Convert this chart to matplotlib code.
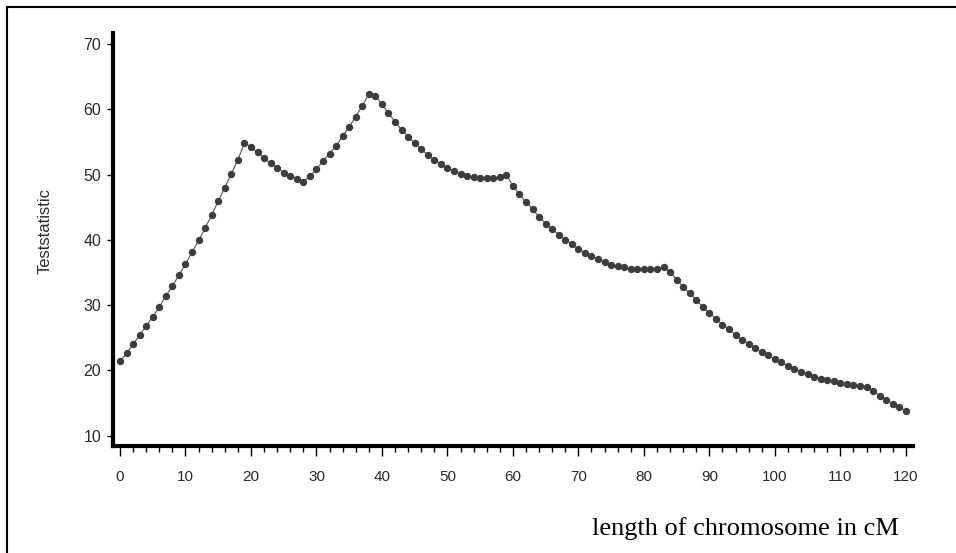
import numpy as np
import matplotlib
matplotlib.use('Agg')
import matplotlib.pyplot as plt
from matplotlib.lines import Line2D

# position along the chromosome (cM), one test every 1 cM
posicao = np.arange(0, 121)

# test statistic
estatistica = [
    21.4, 22.6, 24.0, 25.4, 26.8, 28.2, 29.7, 31.4, 32.9, 34.6,
    36.3, 38.1, 39.9, 41.8, 43.8, 45.9, 48.0, 50.1, 52.3, 54.8,
    54.3, 53.4, 52.5, 51.7, 51.0, 50.3, 49.8, 49.3, 48.9, 49.8,
    50.8, 52.1, 53.2, 54.4, 55.9, 57.3, 58.9, 60.5, 62.4, 62.1,
    60.8, 59.4, 58.1, 56.9, 55.8, 54.8, 53.9, 53.0, 52.2, 51.6,
    51.0, 50.5, 50.1, 49.8, 49.6, 49.5, 49.4, 49.5, 49.6, 49.9,
    48.3, 47.0, 45.8, 44.7, 43.5, 42.5, 41.6, 40.8, 40.0, 39.3,
    38.6, 38.0, 37.5, 37.0, 36.6, 36.2, 36.0, 35.8, 35.6, 35.5,
    35.5, 35.5, 35.6, 35.8, 35.1, 33.9, 32.8, 31.8, 30.8, 29.7,
    28.8, 27.9, 27.0, 26.3, 25.4, 24.7, 24.1, 23.4, 22.8, 22.3,
    21.7, 21.2, 20.7, 20.2, 19.8, 19.4, 19.0, 18.7, 18.5, 18.3,
    18.1, 17.9, 17.8, 17.6, 17.5, 16.9, 16.1, 15.5, 14.9, 14.4,
    13.8,
]

xticks = list(range(0, 121, 10))
yticks = list(range(10, 71, 10))

fig = plt.figure(figsize=(9.56, 5.53), dpi=100)
ax = fig.add_axes([113 / 956, 1 - 446 / 553, 800 / 956, 413 / 553])

ax.plot(posicao, estatistica, '-', color='#555555', lw=0.8,
        marker='o', ms=4.3, mfc='#3d3d3d', mec='#3d3d3d')

ax.set_xlim(-1.07, 121.1)
ax.set_ylim(8.4, 71.7)

for lado in ['top', 'right']:
    ax.spines[lado].set_visible(False)
for lado in ['left', 'bottom']:
    ax.spines[lado].set_linewidth(3)
    ax.spines[lado].set_color('black')

ax.set_xticks(xticks)
ax.set_xticks(range(0, 121, 2), minor=True)
ax.set_yticks(yticks)
ax.tick_params(axis='x', which='major', length=7.5, width=1, pad=10,
               labelsize=11, labelcolor='#2a2a2a')
ax.tick_params(axis='x', which='minor', length=4.5, width=1)
ax.tick_params(axis='y', which='major', length=4.5, width=1, pad=4,
               labelsize=11.5, labelcolor='#2a2a2a')
for lbl in ax.get_xticklabels() + ax.get_yticklabels():
    lbl.set_family('Liberation Sans')

ax.set_ylabel('Teststatistic', family='Liberation Sans', fontsize=12,
              color='#2a2a2a')
ax.yaxis.set_label_coords(-0.075, 0.52)

ax.set_xlabel('length of chromosome in cM', family='Liberation Serif',
              fontsize=19, ha='right', va='baseline')
ax.xaxis.set_label_coords(899 / 800 - 113 / 800, -(535 - 446) / 413)

# border of the page (only left and top visible)
fig.add_artist(Line2D([7 / 956, 7 / 956], [0, 1 - 7 / 553],
                      transform=fig.transFigure, color='black', lw=1.5))
fig.add_artist(Line2D([7 / 956, 1], [1 - 7 / 553, 1 - 7 / 553],
                      transform=fig.transFigure, color='black', lw=1.5))

fig.savefig('out.png', dpi=100)
